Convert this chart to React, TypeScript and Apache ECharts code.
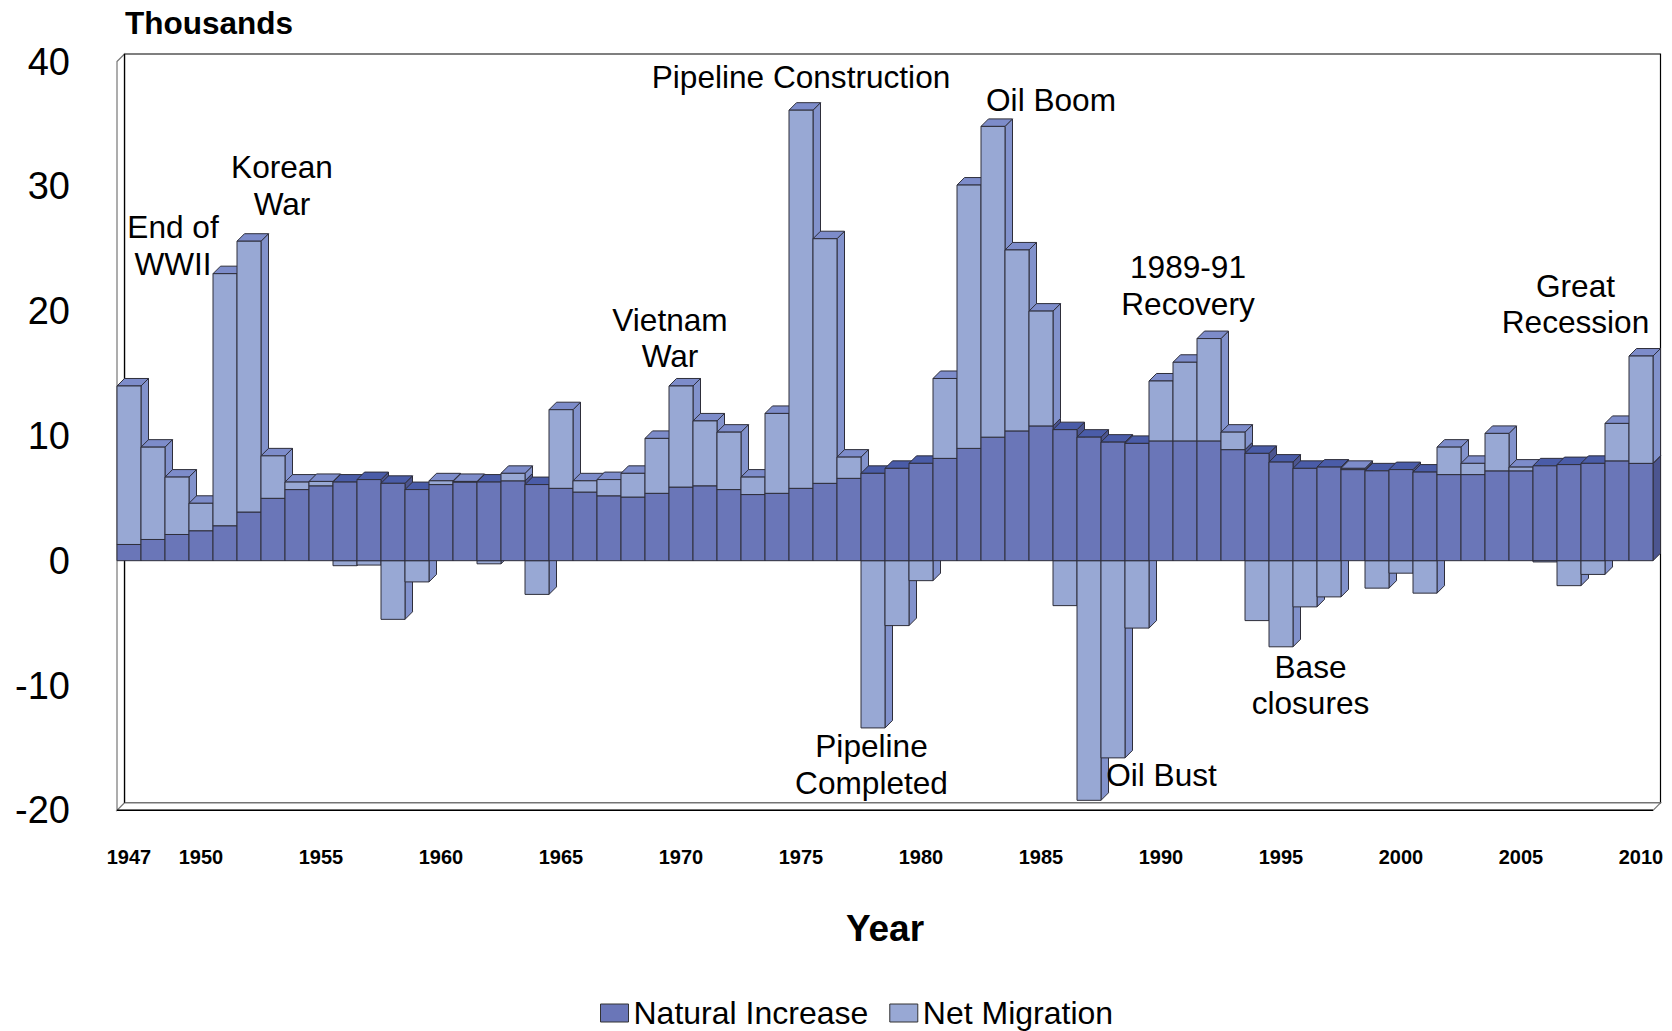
import React, { useEffect, useRef } from 'react';
import * as echarts from 'echarts';

// ---- Data (thousands) ----
const years: string[] = [
  '1947','1948','1949','1950','1951','1952','1953','1954','1955','1956',
  '1957','1958','1959','1960','1961','1962','1963','1964','1965','1966',
  '1967','1968','1969','1970','1971','1972','1973','1974','1975','1976',
  '1977','1978','1979','1980','1981','1982','1983','1984','1985','1986',
  '1987','1988','1989','1990','1991','1992','1993','1994','1995','1996',
  '1997','1998','1999','2000','2001','2002','2003','2004','2005','2006',
  '2007','2008','2009','2010',
];

const naturalIncrease: number[] = [
  1.3, 1.7, 2.1, 2.4, 2.8, 3.9, 5.0, 5.7, 6.0, 6.3,
  6.5, 6.2, 5.7, 6.1, 6.3, 6.3, 6.4, 6.1, 5.8, 5.5,
  5.2, 5.1, 5.4, 5.9, 6.0, 5.7, 5.3, 5.4, 5.8, 6.2,
  6.6, 7.0, 7.4, 7.8, 8.2, 9.0, 9.9, 10.4, 10.8, 10.5,
  9.9, 9.5, 9.4, 9.6, 9.6, 9.6, 8.9, 8.6, 7.9, 7.4,
  7.5, 7.3, 7.2, 7.3, 7.1, 6.9, 6.9, 7.2, 7.2, 7.6,
  7.7, 7.8, 8.0, 7.8,
];

const netMigration: number[] = [
  12.7, 7.4, 4.6, 2.2, 20.2, 21.7, 3.4, 0.6, 0.35, -0.4,
  -0.35, -4.7, -1.7, 0.3, 0.05, -0.25, 0.6, -2.7, 6.3, 0.9,
  1.3, 1.9, 4.4, 8.1, 5.2, 4.6, 1.4, 6.4, 30.3, 19.6,
  1.7, -13.4, -5.2, -1.6, 6.4, 21.1, 24.9, 14.5, 9.2, -3.6,
  -19.2, -15.8, -5.4, 4.8, 6.3, 8.2, 1.4, -4.8, -6.9, -3.7,
  -2.9, 0.1, -2.2, -1.0, -2.6, 2.2, 0.9, 3.0, 0.3, -0.1,
  -2.0, -1.1, 3.0, 8.6,
];

const yMin = -20;
const yMax = 40;
const yInterval = 10;

const seriesNames = ['Natural Increase', 'Net Migration'];

const annotationTexts = [
  'End of\nWWII',
  'Korean\nWar',
  'Vietnam\nWar',
  'Pipeline Construction',
  'Oil Boom',
  'Pipeline\nCompleted',
  'Oil Bust',
  '1989-91\nRecovery',
  'Base\nclosures',
  'Great\nRecession',
];

// ---- Layout / style ----
const W = 1672;
const H = 1031;
const GL = 117;
const GW = 1536;
const GT = 61.5;
const GH = 748.8;
const D = 7.5; // 3D depth offset
const FONT = "'Liberation Sans', Arial, Helvetica, sans-serif";

const annotationPos: [number, number][] = [
  [173, 245.5],
  [282, 185.5],
  [670, 338],
  [801, 76.5],
  [1051, 100],
  [871.5, 764.5],
  [1161.5, 775],
  [1188, 285.5],
  [1310.5, 685],
  [1575.5, 304],
];

const DARK = { front: '#6A76B8', top: '#4A5CA8', side: '#4C5590' };
const LIGHT = { front: '#98A8D4', top: '#7D8CCA', side: '#8292CC' };
const EDGE = '#2E2E3A';

export default function App() {
  const ref = useRef<HTMLDivElement>(null);

  useEffect(() => {
    if (!ref.current) return;
    const chart = echarts.init(ref.current, undefined, { renderer: 'svg' });

    const data = years.map((_, i) => [i, naturalIncrease[i], netMigration[i]]);

    const renderItem = (params: any, api: any) => {
      const i = api.value(0);
      const ni = api.value(1);
      const mig = api.value(2);
      const cx = api.coord([i, 0])[0];
      const w = api.size([1, 0])[0];
      const x0 = cx - w / 2;
      const x1 = cx + w / 2;
      const children: any[] = [];
      const box = (a: number, b: number, c: { front: string; top: string; side: string }) => {
        const yt = api.coord([i, b])[1];
        const yb = api.coord([i, a])[1];
        const st = { stroke: EDGE, lineWidth: 1 };
        children.push({
          type: 'polygon',
          shape: { points: [[x1, yt], [x1 + D, yt - D], [x1 + D, yb - D], [x1, yb]] },
          style: { fill: c.side, ...st },
        });
        children.push({
          type: 'polygon',
          shape: { points: [[x0, yt], [x1, yt], [x1 + D, yt - D], [x0 + D, yt - D]] },
          style: { fill: c.top, ...st },
        });
        children.push({
          type: 'rect',
          shape: { x: x0, y: yt, width: x1 - x0, height: yb - yt },
          style: { fill: c.front, ...st },
        });
      };
      if (mig < 0) box(mig, 0, LIGHT);
      box(0, ni, DARK);
      if (mig > 0) box(ni, ni + mig, LIGHT);
      return { type: 'group', children };
    };

    const GR = GL + GW;
    const GB = GT + GH;
    const frame: any[] = [
      {
        type: 'polygon',
        shape: { points: [[GL + D, GT - D], [GR + D, GT - D], [GR + D, GB - D], [GL + D, GB - D]] },
        style: { fill: '#ffffff', stroke: '#000', lineWidth: 1.2 },
        silent: true,
      },
      {
        type: 'polygon',
        shape: { points: [[GL, GT], [GL + D, GT - D], [GL + D, GB - D], [GL, GB]] },
        style: { fill: '#ffffff', stroke: '#777', lineWidth: 1.2 },
        silent: true,
      },
      {
        type: 'polygon',
        shape: { points: [[GL, GB], [GL + D, GB - D], [GR + D, GB - D], [GR, GB]] },
        style: { fill: '#ffffff', stroke: '#777', lineWidth: 1.2 },
        silent: true,
      },
      {
        type: 'line',
        shape: { x1: GL, y1: GB, x2: GR, y2: GB },
        style: { stroke: '#000', lineWidth: 1.5 },
        silent: true,
      },
      {
        type: 'line',
        shape: { x1: GL + D, y1: GT - D, x2: GL + D, y2: GB - D },
        style: { stroke: '#000', lineWidth: 1.2 },
        silent: true,
      },
    ];

    const texts: any[] = annotationTexts.map((t, k) => ({
      type: 'text',
      x: annotationPos[k][0],
      y: annotationPos[k][1],
      z: 100,
      style: {
        text: t,
        fill: '#000',
        font: `31.6px ${FONT}`,
        align: 'center',
        verticalAlign: 'middle',
        lineHeight: 36.5,
      },
    }));

    texts.push({
      type: 'text',
      x: 125,
      y: 22.5,
      z: 100,
      style: {
        text: 'Thousands',
        fill: '#000',
        font: `bold 31.5px ${FONT}`,
        align: 'left',
        verticalAlign: 'middle',
      },
    });
    texts.push({
      type: 'text',
      x: 885,
      y: 928,
      z: 100,
      style: {
        text: 'Year',
        fill: '#000',
        font: `bold 37px ${FONT}`,
        align: 'center',
        verticalAlign: 'middle',
      },
    });

    chart.setOption({
      animation: false,
      backgroundColor: '#ffffff',
      grid: { left: GL, top: GT, width: GW, height: GH, containLabel: false },
      legend: {
        left: 600,
        top: 997,
        padding: 0,
        itemWidth: 28,
        itemHeight: 18,
        itemGap: 21,
        icon: 'rect',
        data: seriesNames,
        textStyle: { fontSize: 32, fontFamily: FONT, color: '#000' },
        itemStyle: { borderColor: '#333', borderWidth: 1 },
      },
      xAxis: {
        type: 'category',
        data: years,
        boundaryGap: true,
        axisLine: { show: false, onZero: false },
        axisTick: { show: false },
        splitLine: { show: false },
        axisLabel: {
          interval: (idx: number, val: string) => val === '1947' || Number(val) % 5 === 0,
          margin: 37,
          fontSize: 20,
          fontWeight: 'bold',
          fontFamily: FONT,
          color: '#000',
        },
      },
      yAxis: {
        type: 'value',
        min: yMin,
        max: yMax,
        interval: yInterval,
        axisLine: { show: false },
        axisTick: { show: false },
        splitLine: { show: false },
        axisLabel: { fontSize: 38, fontFamily: FONT, color: '#000', margin: 47 },
      },
      graphic: [...frame, ...texts],
      series: [
        {
          type: 'custom',
          name: 'bars3d',
          renderItem,
          clip: false,
          encode: { x: 0, y: 1 },
          data,
          z: 2,
        },
        {
          type: 'bar',
          name: seriesNames[0],
          data: [],
          itemStyle: { color: DARK.front, borderColor: '#333', borderWidth: 1 },
        },
        {
          type: 'bar',
          name: seriesNames[1],
          data: [],
          itemStyle: { color: LIGHT.front, borderColor: '#333', borderWidth: 1 },
        },
      ],
    });

    return () => chart.dispose();
  }, []);

  return (
    <div
      ref={ref}
      style={{ position: 'absolute', left: 0, top: 0, width: W, height: H }}
    />
  );
}
